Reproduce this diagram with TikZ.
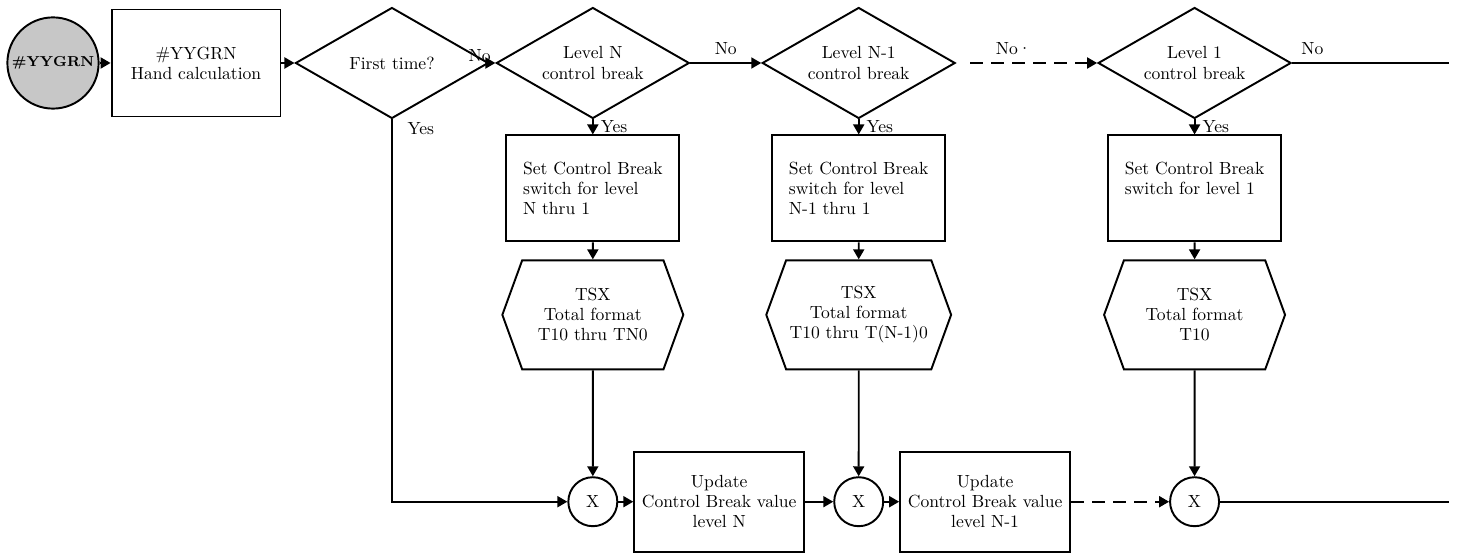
\documentclass[tikz,border=0pt]{standalone}
\usepackage{tikz}
\usetikzlibrary{positioning, arrows.meta, shapes.geometric, shapes.symbols}
\definecolor{startgray}{gray}{0.78}
\tikzset{
  base/.style={
    draw, line width=1.1pt, inner sep=2pt,
    font=\fontsize{10}{11.4}\selectfont
  },
  terminal/.style={base, circle, fill=startgray, minimum size=1.68cm,
    font=\fontsize{8.2}{9.8}\selectfont\bfseries},
  process/.style={base, rectangle, align=center, minimum width=3.38cm, minimum height=2.14cm},
  switchbox/.style={base, rectangle, align=left, minimum width=3.46cm, minimum height=2.12cm},
  decision/.style={base, diamond, aspect=1.7, align=center, inner sep=0pt,
    minimum width=3.86cm, minimum height=2.22cm},
  totalfmt/.style={base, signal, signal to=west and east, signal pointer angle=140,
    align=center, minimum width=3.62cm, minimum height=2.18cm},
  junction/.style={base, circle, minimum size=0.98cm, inner sep=0pt},
  update/.style={base, rectangle, align=center, minimum width=3.4cm, minimum height=2.0cm},
  flow/.style={draw, line width=1.1pt, -{Triangle[length=0.2cm,width=0.22cm]}},
  link/.style={draw, line width=1.1pt},
  broken/.style={dash pattern=on 0.26cm off 0.16cm},
  answer/.style={font=\fontsize{10}{11.4}\selectfont, inner sep=1pt},
}

\begin{document}
\begin{tikzpicture}[x=0.02cm, y=-0.02cm]
  \useasboundingbox (0,0) rectangle (1457,553);

  % top row
  \node[terminal] (start) at (53,63) {\#YYGRN};
  \node[process, right=0.22cm of start] (hand) {\#YYGRN\\Hand calculation};
  \node[decision, right=0.26cm of hand] (first) {First time?};
  \node[decision, right=0.12cm of first] (lvlN) {Level N\\control break};
  \node[decision, right=1.42cm of lvlN] (lvlNm) {Level N-1\\control break};
  \node[decision, right=2.82cm of lvlNm] (lvlOne) {Level 1\\control break};
  \coordinate[right=3.14cm of lvlOne.east] (exitTop);

  % level N column
  \node[switchbox, below=0.3cm of lvlN] (swN) {Set Control Break\\switch for level\\N thru 1};
  \node[totalfmt, below=0.34cm of swN] (totN) {TSX\\Total format\\T10 thru TN0};
  \node[junction, below=2.12cm of totN] (xN) {X};
  \node[update, right=0.3cm of xN] (updN) {Update\\Control Break value\\level N};

  % level N-1 column
  \node[switchbox, below=0.3cm of lvlNm] (swNm) {Set Control Break\\switch for level\\N-1 thru 1};
  \node[totalfmt, below=0.34cm of swNm] (totNm) {TSX\\Total format\\T10 thru T(N-1)0};
  \node[junction, below=2.12cm of totNm] (xNm) {X};
  \node[update, right=0.3cm of xNm] (updNm) {Update\\Control Break value\\level N-1};

  % level 1 column
  \node[switchbox, below=0.3cm of lvlOne] (swOne) {Set Control Break\\switch for level 1\\\phantom{N}};
  \node[totalfmt, below=0.34cm of swOne] (totOne) {TSX\\Total format\\T10};
  \node[junction, below=2.12cm of totOne] (xOne) {X};

  % connectors
  \draw[flow] (start) -- (hand);
  \draw[flow] (hand) -- (first);
  \draw[flow] (first) -- (lvlN)
    node[answer, at start, anchor=south east, xshift=0.08cm, yshift=-1pt] {No};
  \draw[flow] (lvlN) -- node[answer, above=3pt] {No} (lvlNm);
  \draw[flow, broken, shorten <=0.28cm] (lvlNm) --
    node[answer, above=3pt, xshift=-0.26cm] {No\textperiodcentered} (lvlOne);
  \draw[link] (lvlOne) -- node[answer, above=3pt, pos=0.13] {No} (exitTop);

  \draw[flow] (first.south) |- (xN.west)
    node[answer, at start, anchor=north west, xshift=0.26cm] {Yes};
  \draw[flow] (lvlN) -- node[answer, right=3pt] {Yes} (swN);
  \draw[flow] (lvlNm) -- node[answer, right=3pt] {Yes} (swNm);
  \draw[flow] (lvlOne) -- node[answer, right=3pt] {Yes} (swOne);

  \draw[flow] (swN) -- (totN);
  \draw[flow] (swNm) -- (totNm);
  \draw[flow] (swOne) -- (totOne);
  \draw[flow] (totN) -- (xN);
  \draw[flow] (totNm) -- (xNm);
  \draw[flow] (totOne) -- (xOne);

  % bottom row
  \draw[flow] (xN) -- (updN);
  \draw[flow] (updN) -- (xNm);
  \draw[flow] (xNm) -- (updNm);
  \draw[flow, broken] (updNm) -- (xOne);
  \draw[link] (xOne) -- (xOne.east -| exitTop);
\end{tikzpicture}
\end{document}
